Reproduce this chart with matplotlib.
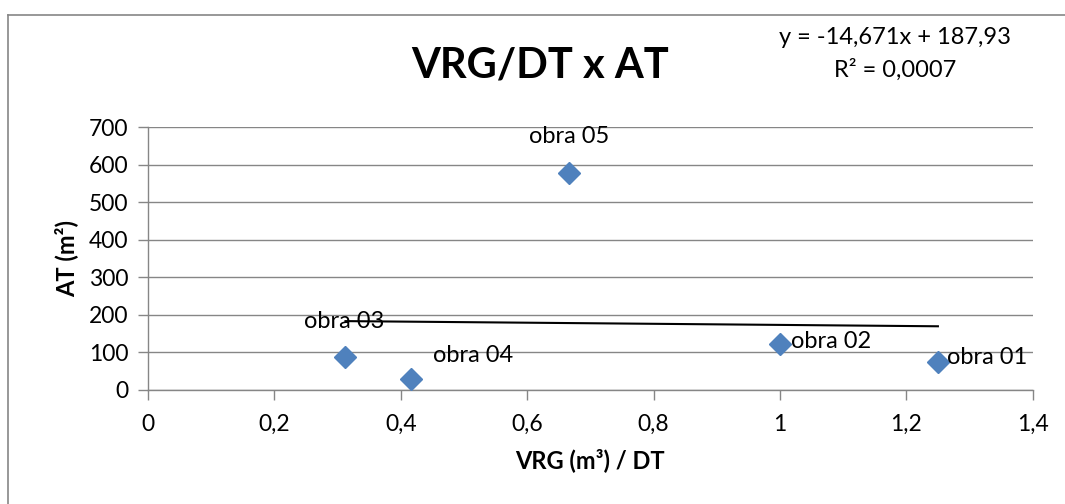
import matplotlib
matplotlib.use("Agg")
import matplotlib.pyplot as plt
from matplotlib.lines import Line2D
import numpy as np

plt.rcParams['font.family'] = ['Lato', 'DejaVu Sans']

# Data
labels = ["obra 01", "obra 02", "obra 03", "obra 04", "obra 05"]
x_vals = [1.25, 1.0, 0.3125, 0.4167, 0.6667]
y_vals = [75, 122, 87, 30, 578]
trend_slope = -14.671
trend_intercept = 187.93
eq_text = "y = -14,671x + 187,93"
r2_text = "R² = 0,0007"
x_ticks = [0, 0.2, 0.4, 0.6, 0.8, 1.0, 1.2, 1.4]
x_tick_labels = ["0", "0,2", "0,4", "0,6", "0,8", "1", "1,2", "1,4"]
y_ticks = [0, 100, 200, 300, 400, 500, 600, 700]
y_tick_labels = [str(v) for v in y_ticks]
title = "VRG/DT x AT"
x_label = "VRG (m³) / DT"
y_label = "AT (m²)"

W, H = 1065, 504
fig = plt.figure(figsize=(W / 100, H / 100), dpi=100)
fig.patch.set_facecolor("white")

# chart frame (left and top edges visible)
frame_color = "#868686"
fig.add_artist(Line2D([8 / W, 8 / W], [0, 1 - 15 / H], transform=fig.transFigure,
                      color=frame_color, lw=1.2))
fig.add_artist(Line2D([8 / W, 1], [1 - 15 / H, 1 - 15 / H], transform=fig.transFigure,
                      color=frame_color, lw=1.2))

ax = fig.add_axes([148 / W, 1 - 390 / H, (1032.7 - 148) / W, (390 - 127) / H])
ax.set_xlim(0, 1.4)
ax.set_ylim(0, 700)

grid_color = "#868686"
ax.set_yticks(y_ticks)
ax.set_yticklabels(y_tick_labels, fontsize=16.5)
ax.set_xticks(x_ticks)
ax.set_xticklabels(x_tick_labels, fontsize=16.5)
ax.yaxis.grid(True, color=grid_color, lw=1.0)
ax.set_axisbelow(True)
for s in ["top", "right"]:
    ax.spines[s].set_visible(False)
for s in ["left", "bottom"]:
    ax.spines[s].set_color(grid_color)
    ax.spines[s].set_linewidth(1.0)
ax.tick_params(axis="both", direction="out", length=7, width=1.0, color=grid_color,
               labelcolor="black")
ax.tick_params(axis="y", pad=7)
ax.tick_params(axis="x", pad=10)

# trendline
xt = np.array([min(x_vals), max(x_vals)])
ax.plot(xt, trend_slope * xt + trend_intercept, color="black", lw=1.5, zorder=2)

# points
ax.plot(x_vals, y_vals, linestyle="none", marker="D", markersize=11,
        color="#4F81BD", markeredgecolor="#4F81BD", zorder=3)

# data labels
offsets = {
    "obra 01": (9, 4, "left", "center"),
    "obra 02": (11, 3, "left", "center"),
    "obra 03": (-1, 36, "center", "center"),
    "obra 04": (62, 23, "center", "center"),
    "obra 05": (0, 36, "center", "center"),
}
for lab, xv, yv in zip(labels, x_vals, y_vals):
    dx, dy, ha, va = offsets[lab]
    ax.annotate(lab, (xv, yv), xytext=(dx, dy), textcoords="offset pixels",
                ha=ha, va=va, fontsize=17, zorder=4)

fig.text(540 / W, 1 - 66 / H, title, fontsize=30, fontweight="bold",
         ha="center", va="center")
fig.text(895 / W, 1 - 38 / H, eq_text, fontsize=17, ha="center", va="center")
fig.text(895 / W, 1 - 70 / H, r2_text, fontsize=17, ha="center", va="center")

ax.set_xlabel(x_label, fontsize=17, fontweight="bold", labelpad=10)
ax.set_ylabel(y_label, fontsize=17, fontweight="bold", labelpad=8)

fig.savefig("out.png", dpi=100)
